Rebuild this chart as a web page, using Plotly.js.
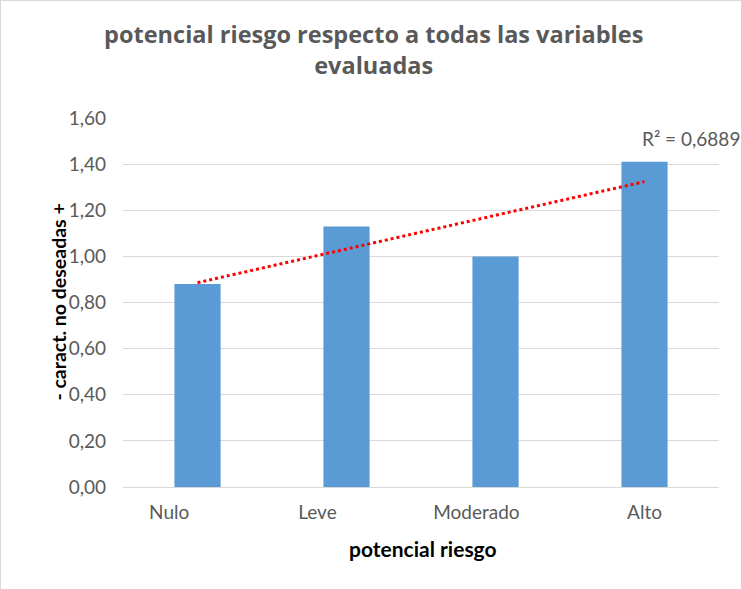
<!DOCTYPE html>
<html>
<head>
<meta charset="utf-8">
<script src="https://cdn.plot.ly/plotly-3.0.1.min.js"></script>
<style>
html,body{margin:0;padding:0;background:#fff;}
#chart{width:741px;height:589px;box-sizing:border-box;border:1px solid #d9d9d9;}
</style>
</head>
<body>
<div id="chart"></div>
<script>
const categories = ["Nulo", "Leve", "Moderado", "Alto"];
const values = [0.88, 1.13, 1.00, 1.41];
const yTickVals = [0, 0.2, 0.4, 0.6, 0.8, 1.0, 1.2, 1.4, 1.6];
const yTickText = ["0,00", "0,20", "0,40", "0,60", "0,80", "1,00", "1,20", "1,40", "1,60"];
const r2Label = "R² = 0,6889";

// linear trendline (least squares over category index)
const n = values.length;
const xs = values.map((_, i) => i);
const mx = xs.reduce((a, b) => a + b, 0) / n;
const my = values.reduce((a, b) => a + b, 0) / n;
let sxy = 0, sxx = 0;
for (let i = 0; i < n; i++) { sxy += (xs[i] - mx) * (values[i] - my); sxx += (xs[i] - mx) ** 2; }
const slope = sxy / sxx, intercept = my - slope * mx;
const trend = xs.map(x => intercept + slope * x);

// small horizontal offsets of the category labels (as in the reference rendering)
const labelShift = [-0.19, -0.195, -0.128, 0];

const bars = {
  type: "bar", x: categories, y: values,
  marker: {color: "#5b9bd5"}, width: 0.31, hoverinfo: "x+y"
};
const trendLine = {
  type: "scatter", mode: "lines", x: xs, y: trend, xaxis: "x2", yaxis: "y",
  line: {color: "#ff0000", width: 3, dash: "dot"}, hoverinfo: "skip"
};

const layout = {
  width: 741, height: 589,
  margin: {l: 122, r: 23, t: 117, b: 103},
  paper_bgcolor: "#ffffff", plot_bgcolor: "#ffffff",
  showlegend: false,
  font: {family: "Lato, 'Open Sans', sans-serif", color: "#595959"},
  title: {
    text: "<b>potencial riesgo respecto a todas las variables<br>evaluadas</b>",
    x: 0.503, xanchor: "center", y: 0.928, yanchor: "top",
    font: {family: "'Open Sans', sans-serif", size: 23.5, color: "#595959"}
  },
  xaxis: {
    type: "category", range: [-0.5, 3.5], autorange: false,
    showgrid: false, zeroline: false, showticklabels: false,
    showline: true, linecolor: "#d9d9d9", linewidth: 1, ticks: ""
  },
  xaxis2: {
    overlaying: "x", anchor: "y", side: "bottom",
    range: [-0.5, 3.5], autorange: false,
    tickvals: categories.map((c, i) => i + labelShift[i]), ticktext: categories,
    showgrid: false, zeroline: false, showline: false,
    ticks: "", tickfont: {size: 19, color: "#595959"}, ticklabelstandoff: 12
  },
  yaxis: {
    range: [0, 1.6], autorange: false, tickvals: yTickVals, ticktext: yTickText,
    showgrid: true, gridcolor: "#d9d9d9", gridwidth: 1, zeroline: false,
    ticks: "", tickfont: {size: 19, color: "#595959"}, ticklabelstandoff: 16
  },
  annotations: [
    {
      text: r2Label, xref: "x", yref: "y", x: 3.0, y: 1.513,
      showarrow: false, xanchor: "left", yanchor: "middle",
      font: {size: 19, color: "#595959"}, xshift: -5
    },
    {
      text: "<b>potencial riesgo</b>", xref: "paper", yref: "paper",
      x: 0.502, y: -0.168, xanchor: "center", yanchor: "middle", showarrow: false,
      font: {size: 21, color: "#000000"}
    },
    {
      text: "<b>- caract. no deseadas +</b>", xref: "paper", yref: "paper",
      x: -0.109, y: 0.5, xanchor: "center", yanchor: "middle", showarrow: false,
      textangle: -90, font: {size: 19.5, color: "#000000"}
    }
  ]
};

Plotly.newPlot("chart", [bars, trendLine], layout, {displayModeBar: false, staticPlot: true});
</script>
</body>
</html>
